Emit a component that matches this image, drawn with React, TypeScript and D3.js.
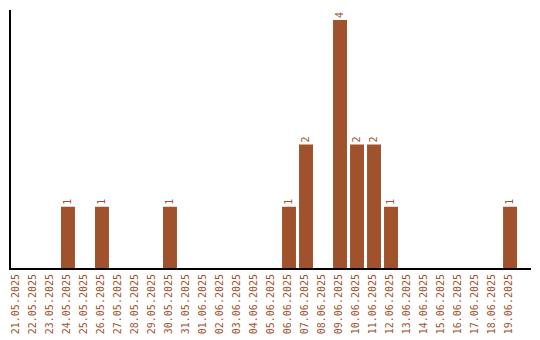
import React from "react";
import * as d3 from "d3";

const categories = [
  "21.05.2025","22.05.2025","23.05.2025","24.05.2025","25.05.2025","26.05.2025","27.05.2025","28.05.2025","29.05.2025","30.05.2025",
  "31.05.2025","01.06.2025","02.06.2025","03.06.2025","04.06.2025","05.06.2025","06.06.2025","07.06.2025","08.06.2025","09.06.2025",
  "10.06.2025","11.06.2025","12.06.2025","13.06.2025","14.06.2025","15.06.2025","16.06.2025","17.06.2025","18.06.2025","19.06.2025",
];
const values = [0,0,0,1,0,1,0,0,0,1, 0,0,0,0,0,0,1,2,0,4, 2,2,1,0,0,0,0,0,0,1];

const W = 540, H = 340;
const COLOR = "#a0522d";
const FONT = "'DejaVu Sans Mono', monospace";

export default function App() {
  const x = d3.scaleBand<string>().domain(categories).range([10, 517]).paddingInner(0.18).paddingOuter(0);
  const y = d3.scaleLinear().domain([0, 4]).range([269, 20]);
  const base = y(0);
  return (
    <svg width={W} height={H} style={{ position: "absolute", left: 0, top: 0 }} fontFamily={FONT}>
      <rect width={W} height={H} fill="#fff" />
      {categories.map((c, i) => {
        const v = values[i];
        const bx = x(c)!;
        const cx = bx + x.bandwidth() / 2;
        return (
          <g key={c}>
            {v > 0 && (
              <>
                <rect x={bx} y={y(v)} width={x.bandwidth()} height={base - y(v)} fill={COLOR} />
                <text transform={`translate(${cx},${y(v) - 2}) rotate(-90)`} fontSize={10} fill={COLOR} dominantBaseline="middle" textAnchor="start">{v}</text>
              </>
            )}
            <text transform={`translate(${cx - 1},${274}) rotate(-90)`} fontSize={10} fill={COLOR} dominantBaseline="middle" textAnchor="end">{c}</text>
          </g>
        );
      })}
      <line x1={10} x2={10} y1={10} y2={base} stroke="#000" strokeWidth={2} />
      <line x1={9} x2={531} y1={base} y2={base} stroke="#000" strokeWidth={2} />
    </svg>
  );
}
